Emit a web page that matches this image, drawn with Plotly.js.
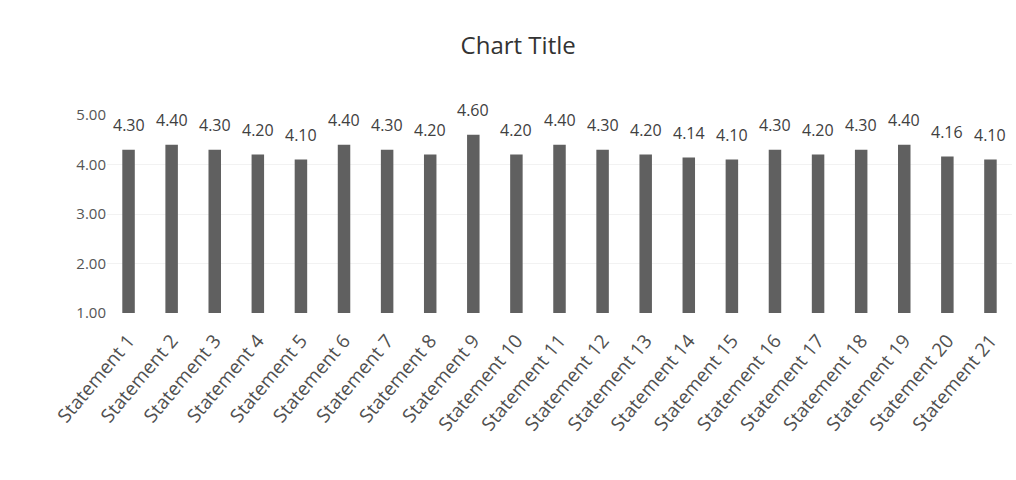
<!DOCTYPE html>
<html>
<head>
<meta charset="utf-8">
<script src="https://cdn.plot.ly/plotly-3.0.1.min.js"></script>
<style>html,body{margin:0;padding:0;background:#fff;}#chart{width:1016px;height:480px;}</style>
</head>
<body>
<div id="chart"></div>
<script>
const categories = ["Statement 1","Statement 2","Statement 3","Statement 4","Statement 5","Statement 6","Statement 7","Statement 8","Statement 9","Statement 10","Statement 11","Statement 12","Statement 13","Statement 14","Statement 15","Statement 16","Statement 17","Statement 18","Statement 19","Statement 20","Statement 21"];
const values = [4.30,4.40,4.30,4.20,4.10,4.40,4.30,4.20,4.60,4.20,4.40,4.30,4.20,4.14,4.10,4.30,4.20,4.30,4.40,4.16,4.10];
const yTicks = [1,2,3,4,5];
const yTickText = ["1.00","2.00","3.00","4.00","5.00"];

const FONT = 'Open Sans, sans-serif';

const trace = {
  type: 'bar',
  x: categories,
  y: values.map(v => v - 1),
  base: 1,
  marker: {color: '#606060'},
  hoverinfo: 'skip'
};

const annotations = categories.map((c, i) => ({
  x: c, y: values[i], xref: 'x', yref: 'y',
  text: values[i].toFixed(2),
  showarrow: false, yanchor: 'bottom', yshift: 12,
  font: {family: FONT, size: 16, color: '#404040'}
}));

const layout = {
  width: 1016, height: 480,
  paper_bgcolor: '#ffffff', plot_bgcolor: '#ffffff',
  margin: {l: 107, r: 4, t: 115, b: 167},
  title: {text: 'Chart Title', x: 0.51, xanchor: 'center', y: 0.905, yanchor: 'middle',
          font: {family: FONT, size: 24, color: '#333333'}},
  bargap: 0.71,
  showlegend: false,
  annotations: annotations,
  xaxis: {
    type: 'category',
    tickangle: -50,
    tickfont: {family: FONT, size: 19, color: '#505050'},
    showline: false, ticks: 'outside', ticklen: 8, tickcolor: 'rgba(0,0,0,0)',
    showgrid: false, zeroline: false, automargin: false
  },
  yaxis: {
    range: [1, 5],
    tickvals: yTicks, ticktext: yTickText,
    tickfont: {family: FONT, size: 15, color: '#555555'},
    showgrid: true, gridcolor: '#f2f2f2', zeroline: false, showline: false,
    ticks: '', ticklen: 0, automargin: false
  }
};

Plotly.newPlot('chart', [trace], layout, {displayModeBar: false, staticPlot: true});
</script>
</body>
</html>
